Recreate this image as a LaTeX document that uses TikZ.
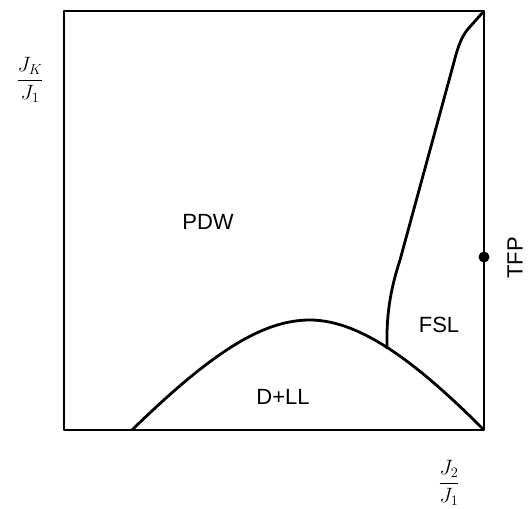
\documentclass[tikz,border=0pt]{standalone}
\usepackage{fontspec}
\setmainfont{Liberation Sans}
\usepackage{amsmath}
\usetikzlibrary{positioning}

\begin{document}
\begin{tikzpicture}[x=1pt,y=1pt,font=\fontsize{22}{26}\selectfont,
 bound/.style={line width=2.8pt,line join=round},
 region/.style={inner sep=0pt},
 axislabel/.style={inner sep=0pt,font=\fontsize{22}{26}\selectfont}]
\useasboundingbox (-64,-78) rectangle (465,430);
% frame of the phase diagram
\coordinate (sw) at (0,0);
\coordinate (ne) at (420,419);
\draw[bound] (sw) rectangle (ne);
% D+LL dome
\coordinate (domeL) at (68,0);
\coordinate (domeTop) at (246,110);
\coordinate (se) at (420,0);
\draw[bound] (domeL) .. controls (150,80) and (200,110) .. (domeTop)
  .. controls (300,110) and (360,60) .. (se);
% FSL boundary
\coordinate (fslFoot) at (323,81);
\draw[bound] (fslFoot) .. controls (322,120) and (328,145) .. (336,170)
  -- (390,368) .. controls (394,384) and (398,394) .. (404,401) -- (ne);
% tricritical point
\node[circle,fill,inner sep=0pt,minimum size=11pt] (tfp) at (420,173) {};
\node[region,rotate=90] (tfplabel) at (451,172) {TFP};
\node[region] (pdw) at (144,208) {PDW};
\node[region] (dll) at (219,33) {D+LL};
\node[region] (fsl) at (375,105) {FSL};
\node[axislabel] (ylab) at (-34,350) {$\dfrac{J_K}{J_1}$};
\node[axislabel] (xlab) at (385,-53) {$\dfrac{J_2}{J_1}$};
\end{tikzpicture}
\end{document}
